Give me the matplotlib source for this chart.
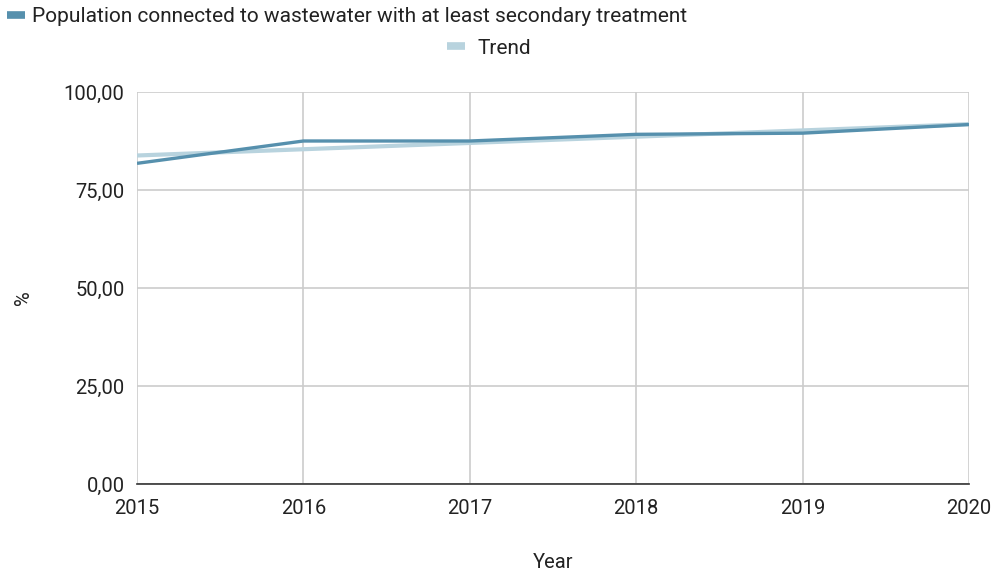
import matplotlib
matplotlib.use("Agg")
import matplotlib.pyplot as plt
from matplotlib.lines import Line2D
from matplotlib.ticker import FuncFormatter

years = [2015, 2016, 2017, 2018, 2019, 2020]
connected = [81.8, 87.5, 87.5, 89.2, 89.5, 91.7]
trend = [83.8, 85.4, 87.0, 88.6, 90.2, 91.8]
y_ticks = [0, 25, 50, 75, 100]

DATA_C = "#5690ad"
TREND_C = "#b8d3de"

plt.rcParams["font.family"] = ["Roboto", "DejaVu Sans"]

fig = plt.figure(figsize=(9.98, 5.74), dpi=100)
ax = fig.add_axes([137 / 998, 1 - 484 / 574, (969 - 137) / 998, (484 - 92) / 574])

ax.plot(years, trend, color=TREND_C, lw=3.0, solid_capstyle="butt", zorder=3)
ax.plot(years, connected, color=DATA_C, lw=2.4, solid_capstyle="butt", zorder=4)

ax.set_xlim(2015, 2020)
ax.set_ylim(0, 100)
ax.set_xticks(years)
ax.set_yticks(y_ticks)
ax.yaxis.set_major_formatter(FuncFormatter(lambda v, p: f"{v:.2f}".replace(".", ",")))
ax.grid(True, color="#cccccc", lw=1.2)
ax.set_axisbelow(True)
for s in ["top", "right", "left"]:
    ax.spines[s].set_visible(False)
ax.spines["bottom"].set_color("#333333")
ax.spines["bottom"].set_linewidth(1.2)
ax.tick_params(length=0, labelsize=14.5, colors="#222222", pad=9)
ax.tick_params(axis="x", pad=11)

fig.text(553 / 998, 1 - 562 / 574, "Year", ha="center", va="center", fontsize=14.5, color="#222222")
fig.text(23 / 998, 1 - 298 / 574, "%", ha="center", va="center", rotation=90, fontsize=14.5, color="#222222")

h1 = Line2D([], [], color=DATA_C, lw=5.5, solid_capstyle="butt")
h2 = Line2D([], [], color=TREND_C, lw=5.5, solid_capstyle="butt")
fig.legend([h1], ["Population connected to wastewater with at least secondary treatment"],
           loc="center", bbox_to_anchor=(347 / 998, 1 - 17 / 574), frameon=False,
           fontsize=15, handlelength=0.86, handletextpad=0.3, labelcolor="#222222")
fig.legend([h2], ["Trend"], loc="center", bbox_to_anchor=(489 / 998, 1 - 48 / 574), frameon=False,
           fontsize=15, handlelength=0.86, handletextpad=0.6, labelcolor="#222222")

fig.savefig("out.png", dpi=100)
